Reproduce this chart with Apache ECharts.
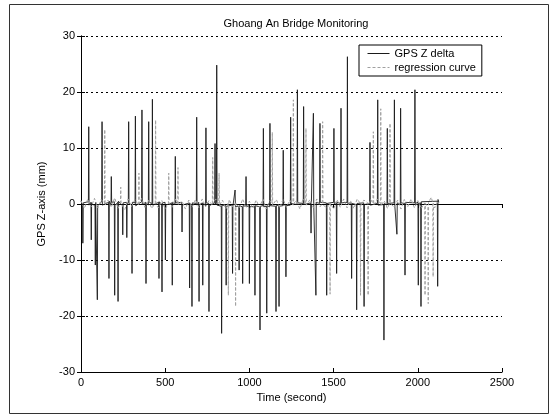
<!DOCTYPE html>
<html>
<head>
<meta charset="utf-8">
<script src="https://cdn.jsdelivr.net/npm/echarts@6/dist/echarts.min.js"></script>
<style>
  html, body { margin: 0; padding: 0; background: #fff; }
  #chart { width: 558px; height: 418px; }
</style>
</head>
<body>
<div id="chart"></div>
<script>
// time ticks and value ticks
const xTicks = [0, 500, 1000, 1500, 2000, 2500];
const yTicks = [-30, -20, -10, 0, 10, 20, 30];

// GPS Z delta, [time (s), mm] - black solid trace
const gpsZDelta = [
  [0,0.5],[10,-0.3],[11,-7],[13,0.2],
  [44,0.4],[46,13.8],[48,-0.2],
  [59,0.3],[61,-6.4],[63,0.2],
  [83,-0.4],[85,-10.9],[87,0.3],
  [95,0.2],[97,-17.1],[99,-0.3],
  [123,0.4],[125,14.7],[127,-0.2],
  [164,0.3],[166,-13.3],[168,0.5],
  [178,-0.2],[180,4.9],[182,0.3],
  [198,0.4],[200,-16.3],[202,-0.2],
  [218,0.3],[220,-17.4],[222,0.5],
  [246,-0.3],[248,-5.5],[250,0.2],
  [270,0.3],[272,-6],[274,-0.2],
  [281,0.4],[283,14.7],[285,0.1],
  [301,-0.2],[303,-12.4],[305,0.3],
  [321,0.2],[323,15.7],[325,-0.3],
  [360,0.4],[362,16.8],[364,-0.1],
  [384,0.3],[386,-14.2],[388,0.2],
  [400,-0.2],[402,14.7],[404,0.3],
  [422,0.1],[424,18.7],[426,-0.2],
  [461,0.3],[463,-13.3],[465,0.4],
  [479,-0.1],[481,-15.7],[483,0.2],
  [499,0.3],[501,-10],[503,-0.2],
  [540,0.2],[542,-14.5],[544,0.3],
  [558,-0.1],[560,8.5],[562,0.2],
  [598,0.3],[600,-5],[602,-0.2],
  [643,0.2],[645,-15],[647,0.1],
  [657,-0.3],[659,-18.3],[661,0.2],
  [685,0.1],[687,15.5],[689,-0.2],
  [699,0.3],[701,-17.4],[703,-0.1],
  [721,0.2],[723,-14.5],[725,0.1],
  [740,-0.3],[742,13.6],[744,0.2],
  [758,0.1],[760,-19.2],[762,-0.3],
  [794,0.2],[796,10.8],[798,-0.1],
  [804,0.3],[806,24.8],[808,-0.2],
  [833,-0.4],[835,-23.1],[837,-0.2],
  [860,-0.3],[862,-14.5],[864,-0.4],
  [898,-0.2],[900,-12.4],[902,-0.4],
  [913,-0.3],[915,2.5],[917,-0.5],
  [937,-0.4],[939,-11.8],[941,-0.3],
  [958,-0.5],[960,-14.2],[962,-0.3],
  [978,-0.4],[980,4.9],[982,-0.5],
  [998,-0.3],[1000,-14.2],[1002,-0.5],
  [1031,-0.4],[1033,-16.3],[1035,-0.3],
  [1061,-0.5],[1063,-22.5],[1065,-0.4],
  [1081,-0.3],[1083,13.5],[1085,-0.5],
  [1101,-0.4],[1103,-19.5],[1105,-0.3],
  [1120,-0.5],[1122,14.4],[1124,-0.3],
  [1156,-0.4],[1158,-19.2],[1160,-0.3],
  [1174,-0.2],[1176,-18.3],[1178,-0.4],
  [1199,-0.3],[1201,9.6],[1203,-0.2],
  [1215,-0.1],[1217,-13],[1219,-0.3],
  [1243,-0.2],[1245,15.5],[1247,0.1],
  [1283,-0.1],[1285,20.4],[1287,0.2],
  [1320,0.1],[1322,17.4],[1324,-0.1],
  [1364,0.2],[1366,-5.2],[1368,0.1],
  [1378,0.3],[1380,16.2],[1382,0.1],
  [1393,0.2],[1395,-16.3],[1397,0.3],
  [1417,0.1],[1419,14.4],[1421,0.3],
  [1457,0.2],[1459,-16.3],[1461,0.1],
  [1500,0.3],[1502,13.5],[1504,0.1],
  [1516,0.2],[1518,-12.4],[1520,0.3],
  [1542,0.1],[1544,17.1],[1546,0.2],
  [1580,0.3],[1582,26.3],[1584,0.1],
  [1605,0.2],[1607,-13.3],[1609,0.1],
  [1635,-0.1],[1637,-18.9],[1639,0.1],
  [1679,0.2],[1681,-18.3],[1683,-0.1],
  [1714,0.1],[1716,11],[1718,-0.2],
  [1760,0.1],[1762,18.6],[1764,-0.2],
  [1797,-0.1],[1799,-24.3],[1801,0.1],
  [1817,-0.2],[1819,13.5],[1821,0.1],
  [1859,0.2],[1861,18.6],[1863,-0.1],
  [1874,0.1],[1876,-5.4],[1878,0.2],
  [1896,-0.1],[1898,17.1],[1900,0.2],
  [1922,0.1],[1924,-12.7],[1926,0.3],
  [1981,0.2],[1983,20.4],[1985,0.1],
  [2001,0.3],[2003,-14.5],[2005,0.1],
  [2017,0.2],[2019,-18.3],[2021,0.4],
  [2116,0.5],[2118,-14.7],[2120,0.8],[2125,0.3]
];

// regression curve, [time (s), mm] - grey dashed trace
const regressionCurve = [
  [0,0.6],[20,-0.8],[40,0.9],[60,-0.5],[80,1.0],[100,-0.7],[120,0.8],
  [139,0.1],[141,13.3],[143,-0.2],[160,0.7],[180,-0.6],[200,1.1],[220,-0.8],
  [234,0.2],[236,3],[238,0.1],[260,-1.0],[280,0.9],[300,-0.5],[320,0.8],
  [342,-0.2],[344,5.5],[346,0.1],[360,1.0],[380,-0.6],[400,0.7],[420,-0.8],
  [441,0.2],[443,15],[445,-0.1],[460,-0.7],[480,0.6],[500,-0.9],
  [519,0.1],[521,5.5],[523,0.2],[540,-0.6],[560,0.9],
  [574,0.1],[576,6.5],[578,-0.2],[600,0.5],[620,-0.9],[640,0.7],[660,-0.6],
  [680,0.8],[700,-0.7],[720,0.9],[740,-0.5],[760,0.6],
  [780,-0.2],[782,8.3],[784,0.1],[800,0.9],
  [818,0.1],[820,5.5],[822,-0.2],[840,0.7],[860,-0.9],
  [873,0.1],[875,-16.3],[877,-0.2],[880,0.8],[900,-0.5],
  [916,0.1],[918,-18.3],[920,0.2],[940,-0.8],[960,0.9],[980,-0.7],
  [1000,0.5],[1020,-0.8],[1040,0.7],[1060,-0.6],[1080,0.9],[1100,-0.9],[1120,0.6],
  [1134,0.1],[1136,12.8],[1138,-0.2],[1160,0.8],[1180,-0.7],[1200,0.9],
  [1220,-0.6],[1240,0.7],[1259,-0.2],[1261,18.6],[1263,0.1],[1280,0.6],
  [1300,-0.9],[1320,1.0],[1334,0.1],[1336,13.5],[1338,-0.2],[1360,0.8],
  [1380,-0.7],[1400,0.9],[1420,-0.5],[1433,0.1],[1435,14.7],[1437,-0.1],
  [1460,-0.8],[1477,0.2],[1479,-16.1],[1481,0.1],[1500,-0.9],[1520,0.8],
  [1540,-0.6],[1560,0.9],[1580,-0.7],[1600,0.6],[1620,-0.8],[1640,0.9],
  [1658,0.1],[1660,-16.3],[1662,-0.2],[1680,0.7],
  [1703,0.2],[1705,-16.3],[1707,-0.1],[1720,0.8],
  [1734,0.1],[1736,12.9],[1738,-0.2],[1760,0.9],
  [1778,0.1],[1780,17],[1782,-0.3],[1800,0.6],[1820,-0.8],
  [1833,0.2],[1835,14.4],[1837,0.1],[1860,-0.6],[1880,0.7],[1900,-0.9],
  [1920,0.8],[1940,-0.5],[1960,0.9],[1980,-0.7],[2000,0.6],[2020,-0.8],
  [2041,0.2],[2043,-16.3],[2045,0.1],[2060,-0.6],[2062,-17.8],[2064,0.3],
  [2080,1.2],[2089,0.2],[2091,-13],[2093,0.1],[2100,-0.7],[2120,0.5]
];

const chart = echarts.init(document.getElementById("chart"));

const font = "Liberation Sans";
const plain = (v) => String(v);

const option = {
  animation: false,
  backgroundColor: "#fff",
  title: {
    text: "Ghoang An Bridge Monitoring",
    left: 291,
    top: 13,
    textAlign: "center",
    textStyle: { fontFamily: font, fontSize: 11, fontWeight: "normal", color: "#000" },
  },
  legend: {
    left: 359,
    top: 45,
    orient: "vertical",
    backgroundColor: "#fff",
    borderColor: "#000",
    borderWidth: 1,
    borderRadius: 0,
    padding: [3, 6, 3, 8],
    itemGap: 3,
    itemWidth: 22,
    itemHeight: 10,
    itemStyle: { opacity: 0 },
    lineStyle: { width: 1 },
    textStyle: { fontFamily: font, fontSize: 11, color: "#000" },
    data: ["GPS Z delta", "regression curve"],
  },
  grid: { left: 81, right: 56, top: 36, bottom: 46 },
  xAxis: [
    {
      type: "value",
      min: xTicks[0],
      max: xTicks[xTicks.length - 1],
      interval: 500,
      name: "Time (second)",
      nameLocation: "middle",
      nameGap: 16,
      nameTextStyle: { fontFamily: font, fontSize: 11, color: "#000" },
      axisLine: { onZero: false, lineStyle: { color: "#000" } },
      axisTick: { inside: true, length: 4, lineStyle: { color: "#000" } },
      axisLabel: { fontFamily: font, fontSize: 11, color: "#000", margin: 5, formatter: plain },
      splitLine: { show: false },
    },
    {
      type: "value",
      position: "top",
      min: xTicks[0],
      max: xTicks[xTicks.length - 1],
      interval: 500,
      axisLine: { lineStyle: { color: "#000" } },
      axisTick: { inside: true, length: 4, lineStyle: { color: "#000" } },
      axisLabel: { show: false },
      splitLine: { show: false },
    },
  ],
  yAxis: [
    {
      type: "value",
      min: yTicks[0],
      max: yTicks[yTicks.length - 1],
      interval: 10,
      name: "GPS Z-axis (mm)",
      nameLocation: "middle",
      nameGap: 34,
      nameTextStyle: { fontFamily: font, fontSize: 11, color: "#000" },
      axisLine: { show: true, onZero: false, lineStyle: { color: "#000" } },
      axisTick: { show: true, inside: true, length: 4, lineStyle: { color: "#000" } },
      axisLabel: { fontFamily: font, fontSize: 11, color: "#000", margin: 6, formatter: plain },
      splitLine: { show: true, lineStyle: { color: "#000", type: [2, 3], width: 1 } },
    },
    {
      type: "value",
      position: "right",
      min: yTicks[0],
      max: yTicks[yTicks.length - 1],
      interval: 10,
      axisLine: { show: true, lineStyle: { color: "#000" } },
      axisTick: { show: true, inside: true, length: 4, lineStyle: { color: "#000" } },
      axisLabel: { show: false },
      splitLine: { show: false },
    },
  ],
  series: [
    {
      name: "GPS Z delta",
      type: "line",
      data: gpsZDelta,
      showSymbol: false,
      symbol: "none",
      lineStyle: { color: "#1a1a1a", width: 0.9 },
      itemStyle: { color: "#1a1a1a" },
      z: 2,
    },
    {
      name: "regression curve",
      type: "line",
      data: regressionCurve,
      showSymbol: false,
      symbol: "none",
      lineStyle: { color: "#a0a0a0", width: 1, type: [3, 2] },
      itemStyle: { color: "#a0a0a0" },
      z: 3,
    },
  ],
  graphic: [
    {
      type: "rect",
      shape: { x: 9.5, y: 4.5, width: 539, height: 409 },
      style: { fill: "none", stroke: "#333", lineWidth: 1 },
      silent: true,
    },
  ],
};

chart.setOption(option);
</script>
</body>
</html>
